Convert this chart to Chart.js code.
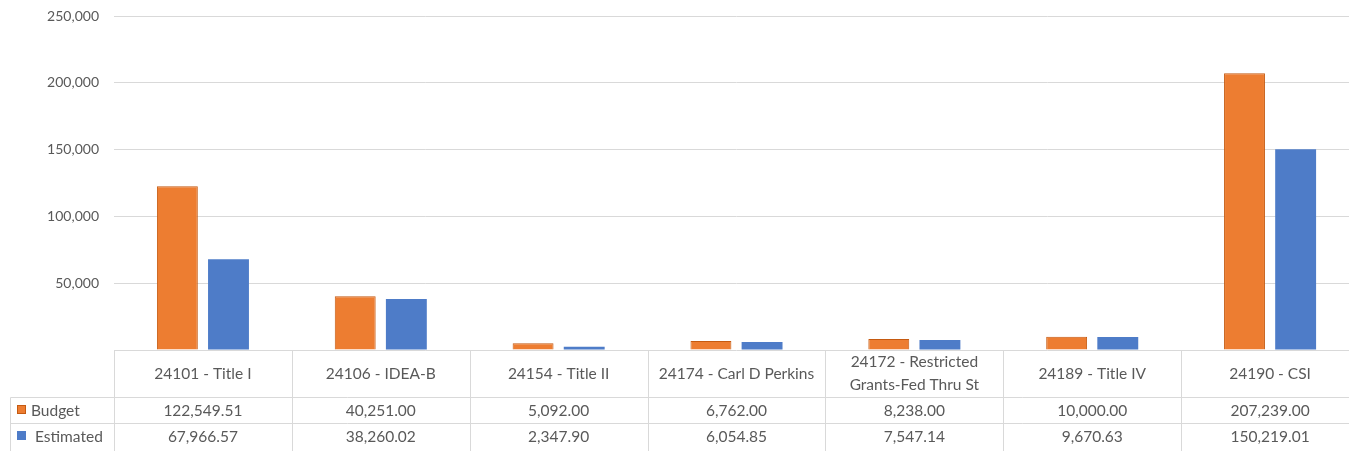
<!DOCTYPE html>
<html>
<head>
<meta charset="utf-8">
<script src="https://cdn.jsdelivr.net/npm/chart.js@4.4.1/dist/chart.umd.min.js"></script>
<style>
  html, body { margin: 0; padding: 0; background: #fff; overflow: hidden; }
  #wrap { width: 1359px; height: 451px; position: relative; }
</style>
</head>
<body>
<div id="wrap"><canvas id="grantChart"></canvas></div>
<script>
const categories = [
  '24101 - Title I',
  '24106 - IDEA-B',
  '24154 - Title II',
  '24174 - Carl D Perkins',
  ['24172 - Restricted', 'Grants-Fed Thru St'],
  '24189 - Title IV',
  '24190 - CSI'
];
const budget = [122549.51, 40251.00, 5092.00, 6762.00, 8238.00, 10000.00, 207239.00];
const estimated = [67966.57, 38260.02, 2347.90, 6054.85, 7547.14, 9670.63, 150219.01];
const yTicks = [0, 50000, 100000, 150000, 200000, 250000];

const FONT = 'Lato, "Open Sans", sans-serif';
const TEXT = '#595959';
const GRID = '#d9d9d9';

function fmt(v, dec) {
  return v.toLocaleString('en-US', { minimumFractionDigits: dec, maximumFractionDigits: dec });
}

// draws the data table under the plot (Excel style)
const dataTable = {
  id: 'dataTable',
  afterDraw(chart) {
    const ctx = chart.ctx;
    const area = chart.chartArea;
    const xs = chart.scales.x;
    const n = categories.length;
    const cellW = (area.right - area.left) / n;
    const top = Math.round(area.bottom);
    const row1 = top + 47;
    const row2 = row1 + 26;
    const bottom = row2 + 28;
    const leftEdge = 10;

    ctx.save();
    ctx.strokeStyle = GRID;
    ctx.lineWidth = 1;
    const line = (x1, y1, x2, y2) => {
      ctx.beginPath();
      ctx.moveTo(Math.round(x1) + 0.5, Math.round(y1) + 0.5);
      ctx.lineTo(Math.round(x2) + 0.5, Math.round(y2) + 0.5);
      ctx.stroke();
    };
    line(leftEdge, row1, area.right, row1);
    line(leftEdge, row2, area.right, row2);
    line(leftEdge, bottom, area.right, bottom);
    line(leftEdge, row1, leftEdge, bottom);
    for (let i = 0; i <= n; i++) {
      const xi = area.left + i * cellW;
      line(xi, top, xi, bottom);
    }

    ctx.fillStyle = TEXT;
    ctx.font = '15.5px ' + FONT;
    ctx.textAlign = 'center';
    ctx.textBaseline = 'middle';
    categories.forEach((c, i) => {
      const cx = xs.getPixelForValue(i);
      const lines = Array.isArray(c) ? c : [c];
      const lh = 23;
      const y0 = (top + row1) / 2 - (lines.length - 1) * lh / 2;
      lines.forEach((t, k) => ctx.fillText(t, cx, y0 + k * lh));
      ctx.fillText(fmt(budget[i], 2), cx, (row1 + row2) / 2 + 1);
      ctx.fillText(fmt(estimated[i], 2), cx, (row2 + bottom) / 2);
    });

    // legend keys
    ctx.textAlign = 'left';
    ctx.fillStyle = '#ED7D31';
    ctx.fillRect(17, row1 + 8, 9, 9);
    ctx.strokeStyle = '#C55A11';
    ctx.strokeRect(17.5, row1 + 8.5, 8, 8);
    ctx.fillStyle = '#4E7CC8';
    ctx.fillRect(17, row2 + 8, 9, 9);
    ctx.fillStyle = TEXT;
    ctx.fillText('Budget', 31, (row1 + row2) / 2 + 1);
    ctx.fillText('Estimated', 35, (row2 + bottom) / 2);
    ctx.restore();
  }
};

new Chart(document.getElementById('grantChart'), {
  type: 'bar',
  data: {
    labels: categories,
    datasets: [
      {
        label: 'Budget',
        data: budget,
        backgroundColor: '#ED7D31',
        borderColor: '#C55A11',
        borderWidth: 1,
        categoryPercentage: 0.575,
        barPercentage: 0.8
      },
      {
        label: 'Estimated',
        data: estimated,
        backgroundColor: '#4E7CC8',
        borderWidth: 0,
        categoryPercentage: 0.575,
        barPercentage: 0.8
      }
    ]
  },
  plugins: [dataTable],
  options: {
    responsive: true,
    maintainAspectRatio: false,
    animation: false,
    layout: { padding: { top: 16, right: 0, bottom: 93, left: 0 } },
    plugins: {
      legend: { display: false },
      tooltip: { enabled: false }
    },
    scales: {
      x: {
        grid: { display: false },
        border: { display: false },
        ticks: { display: false }
      },
      y: {
        min: 0,
        max: 250000,
        afterBuildTicks: (scale) => { scale.ticks = yTicks.map(v => ({ value: v })); },
        afterFit: (scale) => {
          scale.width = 114;
          scale.paddingTop = 0;
          scale.paddingBottom = 0;
        },
        border: { display: false },
        grid: { color: GRID, drawTicks: false, lineWidth: 1 },
        ticks: {
          padding: 15,
          color: TEXT,
          font: { family: FONT, size: 14 },
          callback: (v) => v === 0 ? '' : fmt(v, 0)
        }
      }
    }
  }
});
</script>
</body>
</html>
